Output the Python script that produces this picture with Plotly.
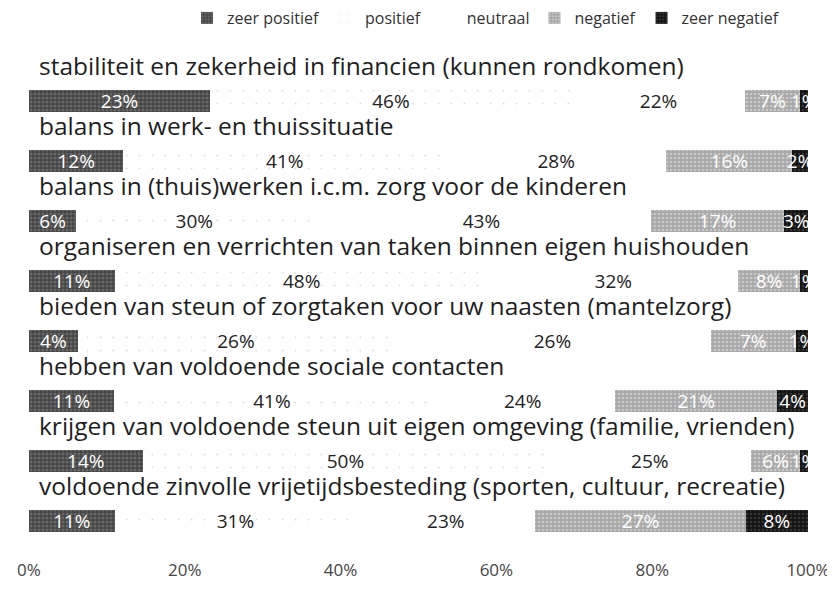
import plotly.graph_objects as go

categories = [
    "stabiliteit en zekerheid in financien (kunnen rondkomen)",
    "balans in werk- en thuissituatie",
    "balans in (thuis)werken i.c.m. zorg voor de kinderen",
    "organiseren en verrichten van taken binnen eigen huishouden",
    "bieden van steun of zorgtaken voor uw naasten (mantelzorg)",
    "hebben van voldoende sociale contacten",
    "krijgen van voldoende steun uit eigen omgeving (familie, vrienden)",
    "voldoende zinvolle vrijetijdsbesteding (sporten, cultuur, recreatie)",
]
zeer_positief = [23, 12, 6, 11, 4, 11, 14, 11]
positief = [46, 41, 30, 48, 26, 41, 50, 31]
neutraal = [22, 28, 43, 32, 26, 24, 25, 23]
negatief = [7, 16, 17, 8, 7, 21, 6, 27]
zeer_negatief = [1, 2, 3, 1, 1, 4, 1, 8]
series_names = ["zeer positief", "positief", "neutraal", "negatief", "zeer negatief"]
tick_vals = [0, 20, 40, 60, 80, 100]
tick_labels = ["0%", "20%", "40%", "60%", "80%", "100%"]

FONT = "Open Sans"
W, H = 827, 581
series = [zeer_positief, positief, neutraal, negatief, zeer_negatief]
styles = [
    dict(bg="#454545", fg="#8c8c8c", shape=".", size=4, sol=0.45, txt="white"),
    dict(bg="white", fg="#bdbdbd", shape=".", size=13, sol=0.02, txt="#222222"),
    dict(bg="white", fg="white", shape="", size=8, sol=0.3, txt="#222222"),
    dict(bg="#a8a8a8", fg="#e8e8e8", shape=".", size=4, sol=0.35, txt="white"),
    dict(bg="#141414", fg="#555555", shape=".", size=4, sol=0.3, txt="white"),
]

ypos = list(range(len(categories)))
fig = go.Figure()
for name, vals, st in zip(series_names, series, styles):
    fig.add_trace(go.Bar(
        name=name,
        x=vals,
        y=ypos,
        orientation="h",
        width=0.37,
        text=[f"{v}%" for v in vals],
        textposition="inside",
        insidetextanchor="middle",
        textangle=0,
        constraintext="none",
        textfont=dict(family=FONT, size=19, color=st["txt"]),
        marker=dict(
            color=st["bg"],
            line=dict(width=0),
            pattern=dict(shape=st["shape"], fgcolor=st["fg"], bgcolor=st["bg"],
                         size=st["size"], solidity=st["sol"]),
        ),
        hoverinfo="skip",
    ))

for i, cat in enumerate(categories):
    fig.add_annotation(
        x=1.0, y=i - 0.59, xref="x", yref="y",
        text=cat, showarrow=False, xanchor="left", yanchor="middle",
        font=dict(family=FONT, size=24.5, color="#1e1e1e"),
    )

# page body has an 8px margin: figure coordinates = screen coordinates - 8
fig.update_layout(
    width=W, height=H,
    margin=dict(l=21, r=W - 800, t=24, b=H - 543, autoexpand=False),
    barmode="stack", barnorm="percent",
    plot_bgcolor="white", paper_bgcolor="white",
    uniformtext=dict(mode="show", minsize=19),
    font=dict(family=FONT, color="#333333"),
    showlegend=True,
    legend=dict(
        orientation="h", xref="container", yref="container",
        x=478 / W, xanchor="center", y=1 - 10 / H, yanchor="middle",
        font=dict(family=FONT, size=16, color="#333333"),
        itemwidth=30, traceorder="normal",
        bgcolor="rgba(0,0,0,0)",
    ),
    xaxis=dict(
        range=[0, 100], tickvals=tick_vals, ticktext=tick_labels,
        showgrid=False, zeroline=False, showline=False, ticks="",
        tickfont=dict(family=FONT, size=17, color="#444444"),
        ticklabelstandoff=7, fixedrange=True, automargin=False,
    ),
    yaxis=dict(
        range=[7.5, -1.15], showticklabels=False, showgrid=False,
        zeroline=False, showline=False, ticks="", fixedrange=True,
        automargin=False,
    ),
)

fig.write_html("out.html")
